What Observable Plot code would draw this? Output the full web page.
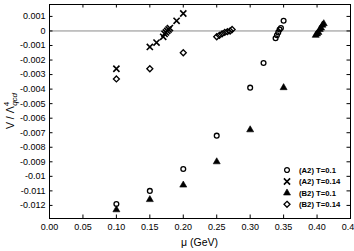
<!DOCTYPE html>
<html><head><meta charset="utf-8">
<script src="https://cdn.jsdelivr.net/npm/d3@7"></script>
<script src="https://cdn.jsdelivr.net/npm/@observablehq/plot@0.6"></script>
<style>
body{margin:0;background:#fff}
#chart svg{display:block;font-family:"Liberation Sans",Arial,sans-serif}
</style>
</head><body><div id="chart"></div>
<script>
// (A2) T=0.1 — circles
const muA2T01 = [0.10, 0.15, 0.20, 0.25, 0.30, 0.32, 0.338, 0.340, 0.342, 0.344, 0.346, 0.350];
const vA2T01  = [-0.0119, -0.0110, -0.0095, -0.0072, -0.0039, -0.0022, -0.0005, -0.0003, -0.0001, 0.0001, 0.0002, 0.0007];
// (A2) T=0.14 — crosses
const muA2T014 = [0.10, 0.15, 0.16, 0.17, 0.172, 0.174, 0.176, 0.178, 0.180, 0.19, 0.20];
const vA2T014  = [-0.0026, -0.0011, -0.0008, -0.0004, -0.0002, -0.0001, 0.0000, 0.0001, 0.0002, 0.0007, 0.0012];
// (B2) T=0.1 — filled triangles
const muB2T01 = [0.10, 0.15, 0.20, 0.25, 0.30, 0.35, 0.398, 0.400, 0.402, 0.404, 0.406, 0.408, 0.410];
const vB2T01  = [-0.0123, -0.0116, -0.0106, -0.0090, -0.0068, -0.0039, -0.0003, -0.0002, -0.0001, 0.0001, 0.0002, 0.0004, 0.0005];
// (B2) T=0.14 — diamonds
const muB2T014 = [0.10, 0.15, 0.20, 0.25, 0.254, 0.258, 0.262, 0.266, 0.270, 0.273];
const vB2T014  = [-0.0033, -0.0026, -0.0015, -0.0004, -0.0003, -0.0002, -0.0001, -0.00005, 0.0000, 0.0001];

const xTicks = [0, 0.05, 0.10, 0.15, 0.20, 0.25, 0.30, 0.35, 0.40, 0.45];
const yTicks = [0.001, 0, -0.001, -0.002, -0.003, -0.004, -0.005, -0.006, -0.007, -0.008, -0.009, -0.010, -0.011, -0.012];
const seriesLabels = ["(A2) T=0.1", "(A2) T=0.14", "(B2) T=0.1", "(B2) T=0.14"];
const xLabel = "μ (GeV)";

const W = 354, H = 251, mL = 49, mR = 4, mT = 4, mB = 33;
const pw = W - mL - mR, ph = H - mT - mB, tk = 3.5;
const rows = (xs, ys) => xs.map((x, i) => ({x, y: ys[i]}));
const yFmt = d => d === 0 ? "0" : String(+d.toFixed(3));

const styles = [
  {symbol: "circle", r: 2.4, stroke: "black", strokeWidth: 1.3, fill: "none"},
  {symbol: "times", r: 2.9, stroke: "black", strokeWidth: 1.6, fill: "none"},
  {symbol: "triangle", r: 2.6, stroke: "black", strokeWidth: 0.6, fill: "black"},
  {symbol: "diamond2", r: 2.7, stroke: "black", strokeWidth: 1.3, fill: "none"}
];
const data = [rows(muA2T01, vA2T01), rows(muA2T014, vA2T014), rows(muB2T01, vB2T01), rows(muB2T014, vB2T014)];

const chart = Plot.plot({
  width: W, height: H, marginLeft: mL, marginRight: mR, marginTop: mT, marginBottom: mB,
  style: {fontFamily: '"Liberation Sans",Arial,sans-serif', fontSize: "9px", color: "black", background: "white"},
  x: {domain: [0, 0.45]},
  y: {domain: [-0.0129, 0.00182]},
  marks: [
    Plot.ruleY([0], {stroke: "#8a8a8a", strokeWidth: 1}),
    Plot.tickY(yTicks, {stroke: "black", insetRight: pw - tk}),
    Plot.tickY(yTicks, {stroke: "black", insetLeft: pw - tk}),
    Plot.tickX(xTicks, {stroke: "black", insetTop: ph - tk}),
    Plot.tickX(xTicks, {stroke: "black", insetBottom: ph - tk}),
    Plot.axisX(xTicks, {tickSize: 0, tickPadding: 5, tickFormat: d => d.toFixed(2), label: null}),
    Plot.axisY(yTicks, {tickSize: 0, tickPadding: 4, tickFormat: yFmt, label: null}),
    Plot.frame({stroke: "black", strokeWidth: 1}),
    ...data.map((d, i) => Plot.dot(d, {x: "x", y: "y", ...styles[i]}))
  ]
});
document.getElementById("chart").append(chart);

const svg = d3.select(chart);
// x label
svg.append("text").attr("x", mL + pw / 2).attr("y", 246).attr("text-anchor", "middle")
  .attr("font-size", "10.5px").attr("fill", "black").text(xLabel);
// y label with superscript/subscript
const yl = svg.append("text").attr("transform", `translate(14,${mT + ph / 2}) rotate(-90)`)
  .attr("text-anchor", "middle").attr("font-size", "10.5px").attr("fill", "black");
yl.append("tspan").text("V / Λ");
yl.append("tspan").attr("font-size", "8px").attr("dy", "-5").text("4");
yl.append("tspan").attr("font-size", "8px").attr("font-style", "italic").attr("dx", "-4").attr("dy", "8").text("qcd");

// legend
const symMap = {circle: d3.symbolCircle, times: d3.symbolTimes, triangle: d3.symbolTriangle, diamond2: d3.symbolDiamond2};
const lg = svg.append("g");
const rowY = [170, 181.5, 193, 204.3];
seriesLabels.forEach((lab, i) => {
  const s = styles[i];
  lg.append("path")
    .attr("d", d3.symbol(symMap[s.symbol], Math.PI * s.r * s.r)())
    .attr("transform", `translate(287,${rowY[i]})`)
    .attr("fill", s.fill).attr("stroke", s.stroke).attr("stroke-width", s.strokeWidth);
  lg.append("text").attr("x", 299).attr("y", rowY[i]).attr("dy", "0.35em")
    .attr("text-anchor", "start")
    .attr("font-size", "7.7px").attr("font-weight", "bold").attr("fill", "black").text(lab);
});
</script>
</body></html>
